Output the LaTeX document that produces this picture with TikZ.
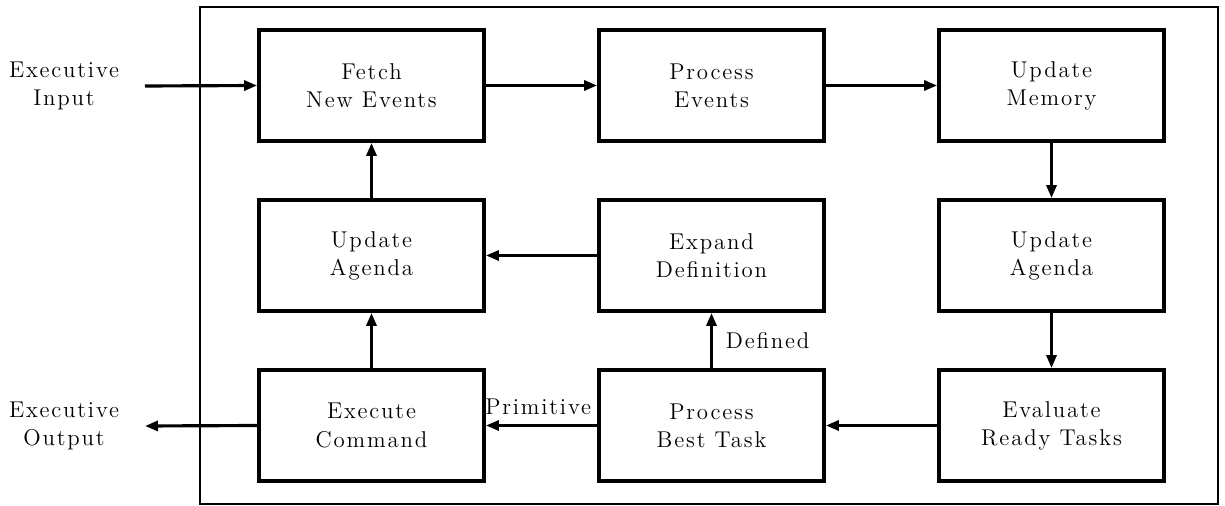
\documentclass[tikz,border=0pt]{standalone}
\usepackage{fontspec}
\usepackage{tikz}
\usetikzlibrary{arrows.meta}
\newfontfamily\spacedfont{lmroman12-regular.otf}[LetterSpace=8]
\newcommand{\boxfont}{\spacedfont\fontsize{13}{16}\selectfont}

\begin{document}
\begin{tikzpicture}[x=0.02cm,y=-0.02cm,font=\boxfont]
\tikzstyle{stage}=[draw,line width=2.2pt,minimum width=4.5cm,minimum height=2.22cm,align=center,inner sep=0pt]
\tikzstyle{flow}=[line width=1.8pt,-{Triangle[length=0.26cm,width=0.2cm]}]
\tikzstyle{io}=[align=center,inner sep=0pt]
% end of definitions
\useasboundingbox (0,0) rectangle (1225,506);
\draw[line width=1.1pt] (200,7) rectangle (1218,504); %frame
% top row
\node[stage] (fetch) at (371.5,85.5) {Fetch\\New Events};
\node[stage] (procev) at (711.5,85.5) {Process\\Events};
\node[stage] (updmem) at (1051.5,85.5) {Update\\Memory};
% middle row
\node[stage] (updagl) at (371.5,255.5) {Update\\Agenda};
\node[stage] (expand) at (711.5,255.5) {Expand\\Definition};
\node[stage] (updagr) at (1051.5,255.5) {Update\\Agenda};
% bottom row
\node[stage] (execute) at (371.5,425.5) {Execute\\Command};
\node[stage] (besttask) at (711.5,425.5) {Process\\Best Task};
\node[stage] (evaluate) at (1051.5,425.5) {Evaluate\\Ready Tasks};
% outside
\node[io] (input) at (64,86) {Executive\\Input};
\node[io] (output) at (64,426) {Executive\\Output};
\coordinate (infrom) at (145,86);
\coordinate (outto) at (145,426);
% connections
\draw[flow] (infrom) -- (fetch.west);
\draw[flow] (fetch) -- (procev);
\draw[flow] (procev) -- (updmem);
\draw[flow] (updmem) -- (updagr);
\draw[flow] (updagr) -- (evaluate);
\draw[flow] (evaluate) -- (besttask);
\draw[flow] (besttask) -- node[above=2pt,pos=0.53] {Primitive} (execute);
\draw[flow] (besttask) -- node[right=4pt] {Defined} (expand);
\draw[flow] (expand) -- (updagl);
\draw[flow] (execute) -- (updagl);
\draw[flow] (updagl) -- (fetch);
\draw[flow] (execute.west) -- (outto);
\end{tikzpicture}
\end{document}
